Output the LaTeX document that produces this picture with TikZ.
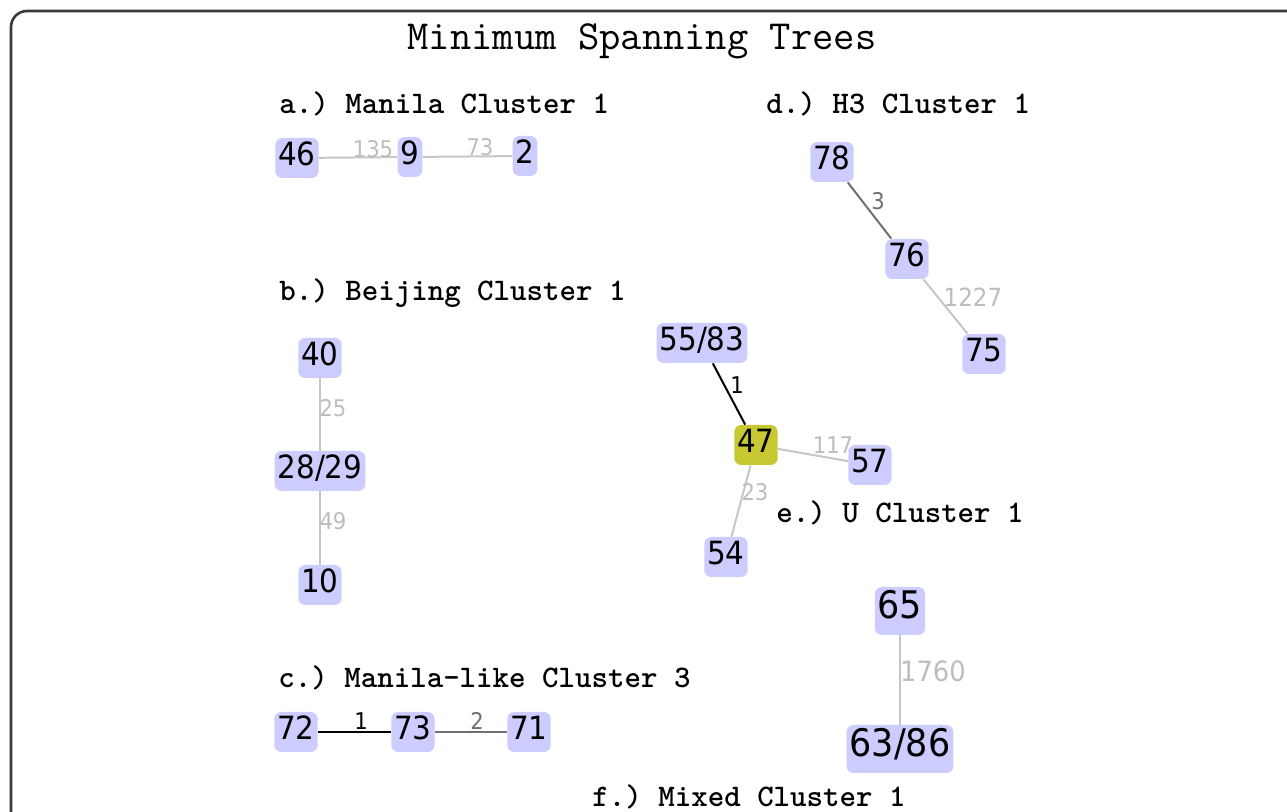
\documentclass[tikz,border=0pt]{standalone}
\usepackage{fontspec}
\setmainfont{DejaVu Sans}
\newfontfamily\nodefont[FakeStretch=0.92]{DejaVu Sans}
\definecolor{lav}{HTML}{CCCCFF}
\definecolor{olv}{HTML}{C8C832}
\definecolor{lgray}{HTML}{C6C6C6}
\definecolor{lbl}{HTML}{BDBDBD}
\definecolor{dgray}{HTML}{707070}
\definecolor{frame}{HTML}{3A3A3A}
\tikzset{
  vtx/.style={fill=lav, rounded corners=3.5pt, inner xsep=1.5pt, inner ysep=0pt,
    minimum height=20pt, text height=0.73em, text depth=0pt,
    font=\nodefont\fontsize{16}{18}\selectfont},
  bigvtx/.style={vtx, minimum height=24pt, font=\nodefont\fontsize{19}{21}\selectfont},
  hub/.style={vtx, fill=olv},
  light/.style={draw=lgray, line width=1pt},
  dark/.style={draw=dgray, line width=1pt},
  black/.style={draw=black, line width=1pt},
  elbl/.style={inner sep=0pt, text=lbl, font=\nodefont\fontsize{11.5}{13}\selectfont},
  title/.style={font=\ttfamily\fontsize{20.7}{22}\selectfont},
  sect/.style={anchor=west, inner sep=0pt, font=\ttfamily\bfseries\fontsize{15.7}{17}\selectfont},
}
\begin{document}
\frenchspacing
\begin{tikzpicture}[x=0.5pt,y=-0.5pt]
\useasboundingbox (0,0) rectangle (1287,812);
\begin{scope}
\clip (0,0) rectangle (1287,812);
\draw[draw=frame, line width=1.3pt, rounded corners=8pt] (11,11) rectangle (1320,840);
\end{scope}
\node[title] (ttl) at (642,41) {Minimum Spanning Trees};
% section labels
\node[sect] (la) at (279,104) {a.) Manila Cluster 1};
\node[sect] (ld) at (766,104) {d.) H3 Cluster 1};
\node[sect] (lb) at (279,293) {b.) Beijing Cluster 1};
\node[sect] (le) at (776,513) {e.) U Cluster 1};
\node[sect] (lc) at (278,678) {c.) Manila-like Cluster 3};
\node[sect] (lf) at (592,797) {f.) Mixed Cluster 1};
% a
\node[vtx] (n46) at (297,158) {46};
\node[vtx] (n9) at (410,157) {9};
\node[vtx] (n2) at (525,156) {2};
\draw[light] (n46) -- (n9);
\draw[light] (n9) -- (n2);
\node[elbl] (e135) at (373,149) {135};
\node[elbl] (e73) at (480,147) {73};
% b
\node[vtx] (n40) at (320,358) {40};
\node[vtx] (n2829) at (320,471) {28/29};
\node[vtx] (n10) at (320,585) {10};
\draw[light] (n40) -- (n2829);
\draw[light] (n2829) -- (n10);
\node[elbl] (e25) at (333,408) {25};
\node[elbl] (e49) at (333,521) {49};
% e
\node[vtx] (n5583) at (702,343) {55/83};
\node[hub] (n47) at (756,445) {47};
\node[vtx] (n57) at (870,465) {57};
\node[vtx] (n54) at (726,557) {54};
\draw[black] (n5583) -- (n47);
\draw[light] (n47) -- (n57);
\draw[light] (n47) -- (n54);
\node[elbl, text=black] (e1a) at (737,385) {1};
\node[elbl] (e117) at (833,445) {117};
\node[elbl] (e23) at (755,492) {23};
% d
\node[vtx] (n78) at (832,162) {78};
\node[vtx] (n76) at (907,259) {76};
\node[vtx] (n75) at (984,354) {75};
\draw[dark] (n78) -- (n76);
\draw[light] (n76) -- (n75);
\node[elbl, text=dgray] (e3) at (878,201) {3};
\node[elbl, font=\nodefont\fontsize{12.5}{14}\selectfont] (e1227) at (973,297) {1227};
% c
\node[vtx] (n72) at (296,732) {72};
\node[vtx] (n73) at (413,732) {73};
\node[vtx] (n71) at (529,732) {71};
\draw[black] (n72) -- (n73);
\draw[dark] (n73) -- (n71);
\node[elbl, text=black] (e1b) at (361,721) {1};
\node[elbl, text=dgray] (e2) at (477,721) {2};
% f
\node[bigvtx] (n65) at (900,611) {65};
\node[bigvtx] (n6386) at (900,749) {63/86};
\draw[light] (n65) -- (n6386);
\node[elbl, font=\nodefont\fontsize{14}{16}\selectfont] (e1760) at (933,671) {1760};
\end{tikzpicture}
\end{document}
